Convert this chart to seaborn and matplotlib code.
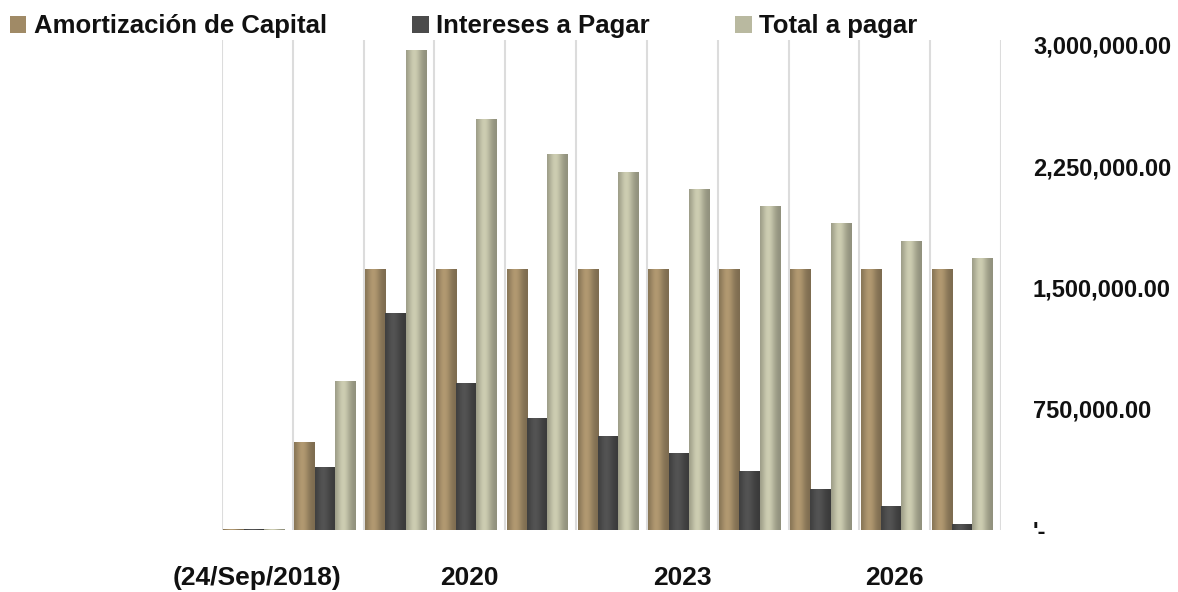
import numpy as np
import pandas as pd
import seaborn as sns
import matplotlib.pyplot as plt
import matplotlib.transforms as mtransforms
from matplotlib.patches import Patch
from matplotlib.colors import to_rgb

# data
periodos = ["(24/Sep/2018)", "2018", "2019", "2020", "2021", "2022",
            "2023", "2024", "2025", "2026", "2027"]
amortizacion = [6000, 542000, 1614000, 1614000, 1614000, 1614000,
                1614000, 1614000, 1614000, 1614000, 1614000]
intereses = [5000, 388000, 1343000, 912000, 690000, 579000,
             475000, 364000, 253000, 148000, 37000]
total = [6000, 924000, 2970000, 2539000, 2323000, 2212000,
         2108000, 2003000, 1898000, 1787000, 1682000]

series = ["Amortización de Capital", "Intereses a Pagar", "Total a pagar"]
colores = ["#a08a66", "#4b4b4b", "#b9b9a0"]
yticks = [0, 750000, 1500000, 2250000, 3000000]
ytick_labels = ["'-", "750,000.00", "1,500,000.00", "2,250,000.00", "3,000,000.00"]
xtick_labels = ["(24/Sep/2018)", "", "", "2020", "", "", "2023", "", "", "2026", ""]

df = pd.DataFrame({
    "periodo": periodos * 3,
    "serie": [series[0]] * 11 + [series[1]] * 11 + [series[2]] * 11,
    "valor": amortizacion + intereses + total,
})

sns.set_theme(style="white")
plt.rcParams["font.family"] = ["Liberation Sans Narrow", "Liberation Sans", "DejaVu Sans"]
plt.rcParams["font.weight"] = "bold"
plt.rcParams["text.color"] = "#111111"

fig = plt.figure(figsize=(11.78, 5.92), dpi=100)
ax = fig.add_axes([222 / 1178, 1 - 530 / 592, (1001 - 222) / 1178, (530 - 40) / 592])

sns.barplot(data=df, x="periodo", y="valor", hue="serie", order=periodos,
            hue_order=series, palette=colores, width=0.86, gap=0,
            saturation=1, legend=False, ax=ax)

# cylinder-ish shading on each bar
prof = np.linspace(0, 1, 64)
shade = 0.77 + 0.34 * np.exp(-((prof - 0.4) / 0.33) ** 2)
for p in ax.patches:
    p.set_x(p.get_x() - 0.05)
    p.set_linewidth(0)
    x0, y0 = p.get_x(), p.get_y()
    w, h = p.get_width(), p.get_height()
    if h <= 0:
        continue
    base = np.array(to_rgb(p.get_facecolor()))
    img = np.clip(base[None, None, :] * shade[None, :, None], 0, 1)
    im = ax.imshow(img, extent=[x0, x0 + w, y0, y0 + h], aspect="auto",
                   zorder=p.get_zorder() + 0.1, interpolation="bicubic")
    im.set_clip_path(p)

ax.set_xlim(-0.5, 10.5)
ax.set_ylim(0, 3030000)
ax.set_xlabel("")
ax.set_ylabel("")

# vertical separators between categories
ax.set_xticks(np.arange(-0.5, 11, 1), minor=True)
ax.grid(True, axis="x", which="minor", color="#dcdcdc", linewidth=1.5)
ax.grid(False, axis="y")
ax.set_axisbelow(True)

ax.set_xticks(range(11))
ax.set_xticklabels(xtick_labels, fontsize=19, fontweight="bold", color="#111111")
shift = mtransforms.ScaledTranslation(-5 / 100, 0, fig.dpi_scale_trans)
for lbl in ax.get_xticklabels():
    lbl.set_transform(lbl.get_transform() + shift)
ax.yaxis.tick_right()
ax.set_yticks(yticks)
ax.set_yticklabels(ytick_labels, fontsize=17, fontweight="bold", color="#111111",
                   ha="left")
ax.tick_params(axis="x", which="both", length=0, pad=26)
ax.tick_params(axis="y", length=0, pad=23)
for s in ax.spines.values():
    s.set_visible(False)

handles = [Patch(facecolor=c, edgecolor="none") for c in colores]
fig.legend(handles, series, loc="upper left", bbox_to_anchor=(-0.007, 1.006),
           ncol=3, frameon=False, prop={"weight": "bold", "size": 18.5},
           handlelength=0.65, handleheight=0.65, handletextpad=0.3,
           columnspacing=3.3, borderaxespad=0.3)

fig.savefig("out.png", dpi=100)
